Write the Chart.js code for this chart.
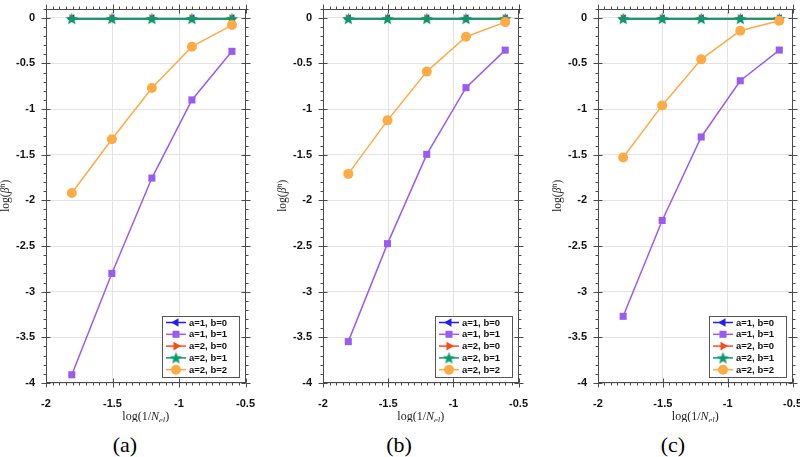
<!DOCTYPE html>
<html>
<head>
<meta charset="utf-8">
<script src="https://cdn.jsdelivr.net/npm/chart.js@4.4.0/dist/chart.umd.min.js"></script>
<style>
body { margin: 0; width: 800px; height: 457px; background: #fff; position: relative; overflow: hidden; }
.panel { position: absolute; top: -9px; height: 431px; }
.cap { position: absolute; top: 432px; width: 60px; text-align: center; font-family: "Liberation Serif", "DejaVu Serif", serif; font-size: 22px; }
</style>
</head>
<body>
<div class="panel" style="left:0px;width:269px"><canvas id="ca"></canvas></div>
<div class="panel" style="left:277px;width:265px"><canvas id="cb"></canvas></div>
<div class="panel" style="left:552px;width:264px"><canvas id="cc"></canvas></div>
<div class="cap" style="left:95px">(a)</div>
<div class="cap" style="left:369px">(b)</div>
<div class="cap" style="left:643px">(c)</div>
<script>
// log(1/N_el) for N_el = 64, 32, 16, 8, 4
const xVals = [-1.806, -1.505, -1.204, -0.903, -0.602]
const xTicks = [-2, -1.5, -1, -0.5]
const yTicks = [0, -0.5, -1, -1.5, -2, -2.5, -3, -3.5, -4]

const names = ["a=1, b=0", "a=1, b=1", "a=2, b=0", "a=2, b=1", "a=2, b=2"]
const colors = ["#1f1ff5", "#9a5cf0", "#ff4a17", "#0b9a6b", "#ffab45"]

// panel (a)
const a_a1b0 = [-0.01, -0.01, -0.01, -0.01, -0.01]
const a_a1b1 = [-3.91, -2.80, -1.756, -0.90, -0.368]
const a_a2b0 = [-0.01, -0.01, -0.01, -0.01, -0.01]
const a_a2b1 = [-0.01, -0.01, -0.01, -0.01, -0.01]
const a_a2b2 = [-1.92, -1.33, -0.77, -0.317, -0.08]
// panel (b)
const b_a1b0 = [-0.01, -0.01, -0.01, -0.01, -0.01]
const b_a1b1 = [-3.547, -2.474, -1.496, -0.766, -0.355]
const b_a2b0 = [-0.01, -0.01, -0.01, -0.01, -0.01]
const b_a2b1 = [-0.01, -0.01, -0.01, -0.01, -0.01]
const b_a2b2 = [-1.71, -1.124, -0.59, -0.208, -0.048]
// panel (c)
const c_a1b0 = [-0.01, -0.01, -0.01, -0.01, -0.01]
const c_a1b1 = [-3.27, -2.22, -1.306, -0.69, -0.354]
const c_a2b0 = [-0.01, -0.01, -0.01, -0.01, -0.01]
const c_a2b1 = [-0.01, -0.01, -0.01, -0.01, -0.01]
const c_a2b2 = [-1.53, -0.96, -0.456, -0.142, -0.033]

// filled five point star for a=2, b=1
function makeStar(color, size) {
    const c = document.createElement("canvas")
    c.width = size
    c.height = size
    const g = c.getContext("2d")
    const r = size / 2, ri = r * 0.42
    g.beginPath()
    for (let i = 0; i < 10; i++) {
        const rr = i % 2 ? ri : r
        const ang = -Math.PI / 2 + i * Math.PI / 5
        g.lineTo(r + rr * Math.cos(ang), r + 0.5 + rr * Math.sin(ang))
    }
    g.closePath()
    g.fillStyle = color
    g.fill()
    return c
}
const star = makeStar(colors[3], 13)

const markers = [
    { pointStyle: "triangle", rotation: -90, radius: 5 },
    { pointStyle: "rect", rotation: 0, radius: 5 },
    { pointStyle: "triangle", rotation: 90, radius: 5 },
    { pointStyle: star, rotation: 0, radius: 6 },
    { pointStyle: "circle", rotation: 0, radius: 5 }
]

const serif = "'Liberation Serif', 'DejaVu Serif', serif"
const tickFont = { family: "'Liberation Sans', Arial", weight: "bold", size: 11 }

// pieces of text: [text, italic, size, baseline shift]
function drawParts(ctx, parts, cx, cy) {
    let total = 0
    for (const p of parts) {
        ctx.font = `${p[1] ? "italic " : ""}${p[2]}px ${serif}`
        total += ctx.measureText(p[0]).width
    }
    let x = cx - total / 2
    for (const p of parts) {
        ctx.font = `${p[1] ? "italic " : ""}${p[2]}px ${serif}`
        ctx.fillText(p[0], x, cy + p[3])
        x += ctx.measureText(p[0]).width
    }
}

// frame, ticks on all four sides, axis titles and the legend box
const framePlugin = {
    id: "frame",
    afterDraw(chart) {
        const ctx = chart.ctx
        const a = chart.chartArea
        const sx = chart.scales.x, sy = chart.scales.y
        ctx.save()
        ctx.strokeStyle = "#4a4a4a"
        ctx.lineWidth = 1
        const L = Math.round(a.left) + 0.5, R = Math.round(a.right) - 0.5
        const T = Math.round(a.top) + 0.5, B = Math.round(a.bottom) - 0.5
        ctx.strokeRect(L, T, R - L, B - T)
        ctx.beginPath()
        for (let i = 0; i <= 30; i++) {
            const v = -2 + i * 0.05
            const px = Math.round(sx.getPixelForValue(v)) + 0.5
            const major = i % 10 == 0
            const len = major ? 5 : 3
            ctx.moveTo(px, B); ctx.lineTo(px, B + len)
            ctx.moveTo(px, T); ctx.lineTo(px, T - len)
            if (major) {
                ctx.moveTo(px, B); ctx.lineTo(px, B - 4)
                ctx.moveTo(px, T); ctx.lineTo(px, T + 4)
            }
        }
        for (let i = 0; i <= 41; i++) {
            const v = 0.1 - i * 0.1
            const py = Math.round(sy.getPixelForValue(v)) + 0.5
            if (py < T - 0.1) continue
            const major = (i - 1) % 5 == 0
            const len = major ? 5 : 3
            ctx.moveTo(L, py); ctx.lineTo(L - len, py)
            ctx.moveTo(R, py); ctx.lineTo(R + len, py)
            if (major) {
                ctx.moveTo(L, py); ctx.lineTo(L + 4, py)
                ctx.moveTo(R, py); ctx.lineTo(R - 4, py)
            }
        }
        ctx.stroke()

        // axis titles
        ctx.fillStyle = "#222"
        ctx.textBaseline = "alphabetic"
        drawParts(ctx, [["log(1/", false, 12, 0], ["N", true, 12, 0], ["el", true, 8.5, 2.5], [")", false, 12, 0]], (a.left + a.right) / 2, a.bottom + 37)
        ctx.save()
        ctx.translate(9, (a.top + a.bottom) / 2)
        ctx.rotate(-Math.PI / 2)
        drawParts(ctx, [["log(", false, 11.5, 0], ["β", true, 11.5, 0], ["h", true, 8, -4], [")", false, 11.5, 0]], 0, 0)
        ctx.restore()

        // legend
        const w = 77, h = 61
        const bx = Math.round(a.right) - 7 - w, by = Math.round(a.bottom) - 6 - h
        ctx.fillStyle = "#fff"
        ctx.fillRect(bx, by, w, h)
        ctx.strokeStyle = "#555"
        ctx.strokeRect(bx + 0.5, by + 0.5, w, h)
        ctx.font = "bold 9.5px 'Liberation Sans', Arial, sans-serif"
        ctx.textBaseline = "middle"
        chart.data.datasets.forEach((ds, i) => {
            const cy = by + 6.5 + i * 11.8
            ctx.strokeStyle = ds.borderColor
            ctx.lineWidth = 1.5
            ctx.beginPath()
            ctx.moveTo(bx + 4, cy)
            ctx.lineTo(bx + 24, cy)
            ctx.stroke()
            ctx.fillStyle = ds.backgroundColor
            Chart.helpers.drawPoint(ctx, { pointStyle: ds.pointStyle, rotation: ds.pointRotation, radius: ds.pointRadius, borderWidth: 0 }, bx + 14, cy)
            ctx.fillStyle = "#111"
            ctx.fillText(names[i], bx + 27, cy + 0.5)
        })
        ctx.restore()
    }
}

function makeChart(id, series) {
    const datasets = []
    for (let i = 0; i < series.length; i++) {
        datasets.push({
            label: names[i],
            data: xVals.map((x, k) => ({ x: x, y: series[i][k] })),
            borderColor: colors[i],
            backgroundColor: colors[i],
            borderWidth: i == 3 ? 2 : 1.5,
            pointStyle: markers[i].pointStyle,
            pointRotation: markers[i].rotation,
            pointRadius: markers[i].radius,
            pointBorderWidth: 0,
            pointHoverRadius: markers[i].radius,
            clip: false,
            order: series.length - i
        })
    }
    return new Chart(document.getElementById(id), {
        type: "line",
        data: { datasets },
        options: {
            responsive: true,
            maintainAspectRatio: false,
            animation: false,
            events: [],
            layout: { padding: 0 },
            plugins: { legend: { display: false }, tooltip: { enabled: false } },
            scales: {
                x: {
                    type: "linear",
                    min: -2, max: -0.5,
                    afterBuildTicks: (s) => { s.ticks = xTicks.map(v => ({ value: v })) },
                    afterFit: (s) => { s.height = 39 },
                    grid: { color: "#e3e3e3", drawTicks: false },
                    border: { display: false },
                    ticks: { padding: 14, maxRotation: 0, color: "#111", font: tickFont, callback: (v) => String(v) }
                },
                y: {
                    type: "linear",
                    min: -4, max: 0.1,
                    afterBuildTicks: (s) => { s.ticks = yTicks.map(v => ({ value: v })) },
                    afterFit: (s) => { s.width = 46 },
                    grid: { color: "#e3e3e3", drawTicks: false },
                    border: { display: false },
                    ticks: { padding: 11, color: "#111", font: tickFont, callback: (v) => String(v) }
                }
            }
        },
        plugins: [framePlugin]
    })
}

makeChart("ca", [a_a1b0, a_a1b1, a_a2b0, a_a2b1, a_a2b2])
makeChart("cb", [b_a1b0, b_a1b1, b_a2b0, b_a2b1, b_a2b2])
makeChart("cc", [c_a1b0, c_a1b1, c_a2b0, c_a2b1, c_a2b2])
</script>
</body>
</html>
